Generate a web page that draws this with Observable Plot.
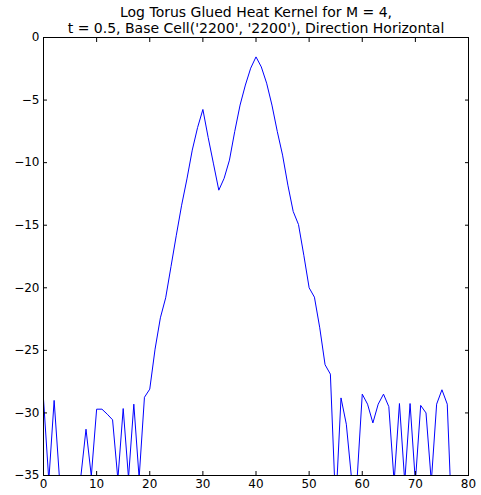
<!DOCTYPE html>
<html>
<head>
<meta charset="utf-8">
<script src="https://cdn.jsdelivr.net/npm/d3@7"></script>
<script src="https://cdn.jsdelivr.net/npm/@observablehq/plot@0.6"></script>
<style>
  html, body { margin: 0; padding: 0; background: #fff; }
</style>
</head>
<body>
<div id="chart"></div>
<script>
const titleLines = [
  "Log Torus Glued Heat Kernel for M = 4,",
  "t = 0.5, Base Cell('2200', '2200'), Direction Horizontal"
];
const xValues = d3.range(0, 80);
const yValues = [
  -28.9, -35.4, -29.0, -35.2, -40, -40, -40, -35.2, -31.3, -35.05,
  -29.7, -29.7, -30.1, -30.55, -35.3, -29.65, -35.2, -29.3, -35.2, -28.75,
  -28.1, -24.9, -22.4, -20.8, -18.3, -15.8, -13.4, -11.3, -9.0, -7.2,
  -5.75, -8.0, -10.1, -12.2, -11.25, -9.8, -7.5, -5.4, -3.8, -2.45,
  -1.55, -2.35, -3.65, -5.4, -7.5, -9.4, -11.8, -13.9, -14.95, -17.4,
  -20.0, -20.75, -23.2, -26.15, -26.9, -37.5, -28.8, -30.9, -35.3, -35.5,
  -28.5, -29.3, -30.8, -29.3, -28.5, -29.5, -35.5, -29.25, -35.5, -29.25,
  -35.5, -29.4, -30.0, -35.5, -29.3, -28.15, -29.3, -40, -40, -40
];
const xTicks = [0, 10, 20, 30, 40, 50, 60, 70, 80];
const yTicks = [0, -5, -10, -15, -20, -25, -30, -35];

const data = xValues.map((x, i) => ({x, y: yValues[i]}));

const chart = Plot.plot({
  width: 481,
  height: 495,
  marginLeft: 43,
  marginRight: 13,
  marginTop: 37,
  marginBottom: 20,
  style: {fontFamily: "DejaVu Sans", fontSize: "12px", background: "#fff", color: "#000"},
  x: {domain: [0, 80]},
  y: {domain: [-35, 0]},
  marks: [
    Plot.line(data, {x: "x", y: "y", stroke: "#0000ff", strokeWidth: 1, clip: true}),
    Plot.frame({stroke: "#000", strokeWidth: 1}),
    Plot.axisX({anchor: "bottom", ticks: xTicks, tickSize: -4, tickPadding: 8, tickFormat: "d", label: null, fontSize: 12}),
    Plot.axisX({anchor: "top", ticks: xTicks, tickSize: -4, text: null, label: null}),
    Plot.axisY({anchor: "left", ticks: yTicks, tickSize: -4, tickPadding: 8, tickFormat: "d", label: null, fontSize: 12}),
    Plot.axisY({anchor: "right", ticks: yTicks, tickSize: -4, text: null, label: null}),
    Plot.text([titleLines[0]], {frameAnchor: "top", dy: -21, lineAnchor: "bottom", text: d => d, fontSize: 14}),
    Plot.text([titleLines[1]], {frameAnchor: "top", dy: -5, lineAnchor: "bottom", text: d => d, fontSize: 14})
  ]
});
document.getElementById("chart").appendChild(chart);
</script>
</body>
</html>
